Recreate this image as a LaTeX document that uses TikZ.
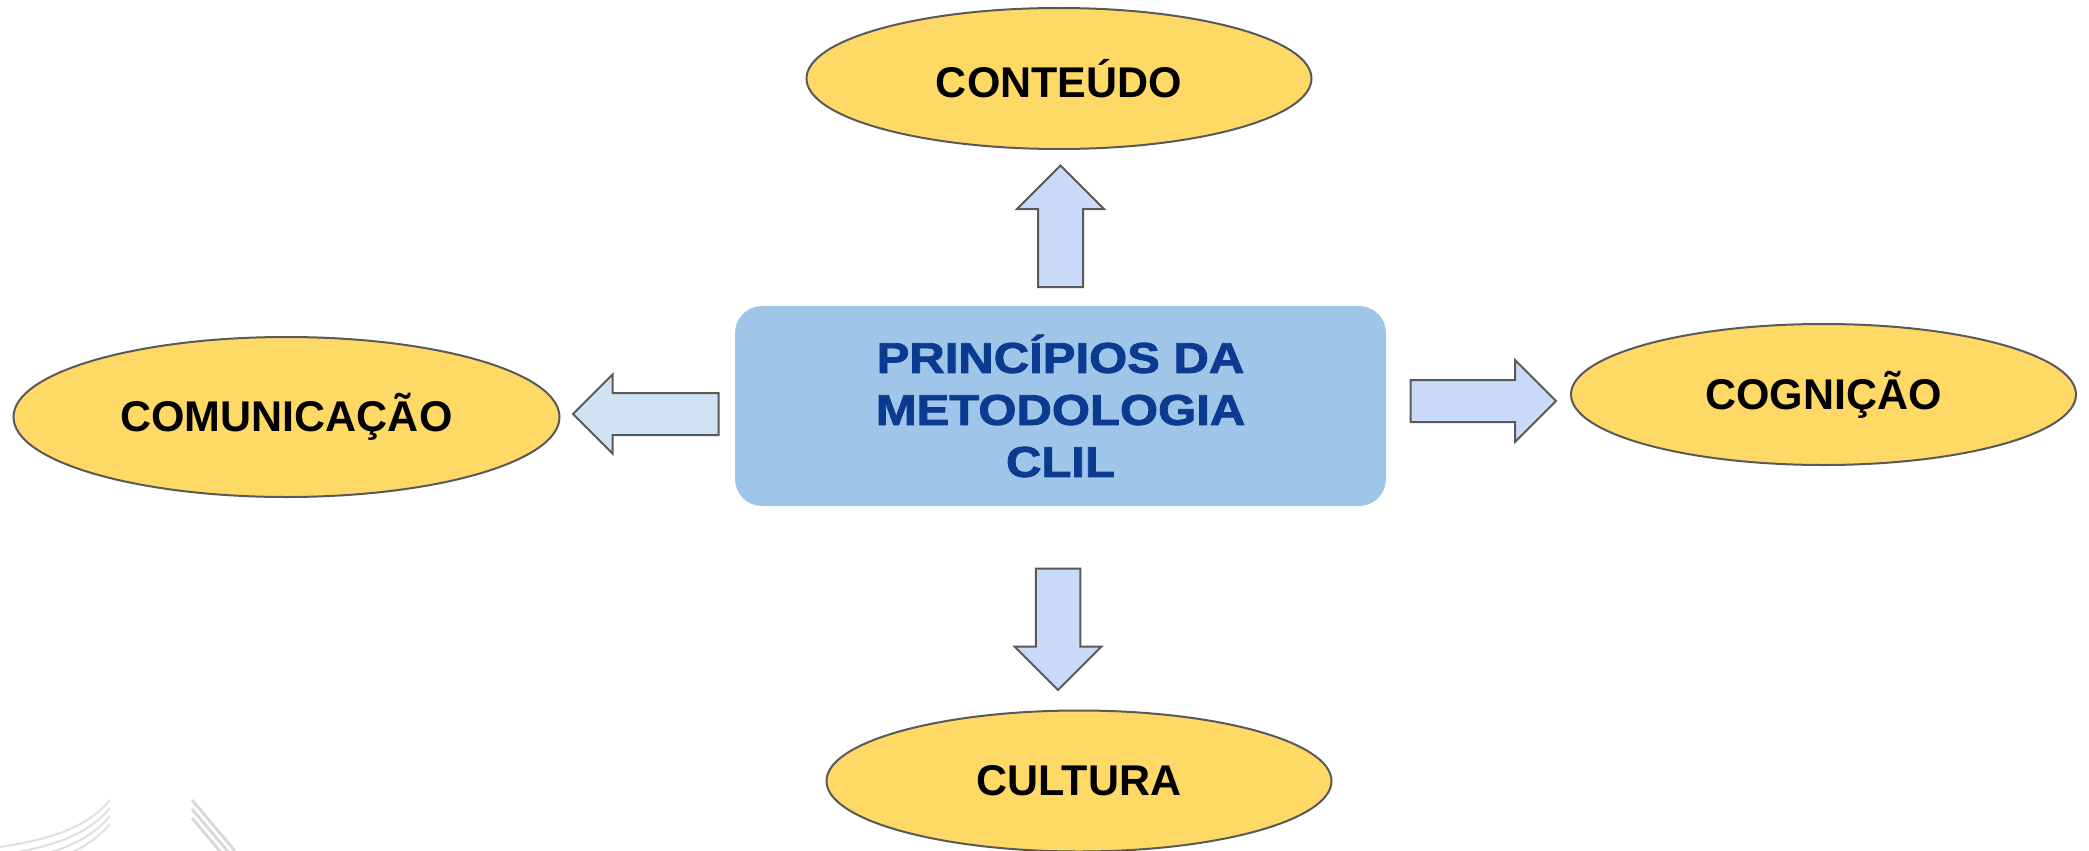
\documentclass[tikz,border=0pt]{standalone}
\usepackage{fontspec}
\setmainfont{Liberation Sans}
\newfontfamily\hubfont{Liberation Sans}[FakeStretch=1.14, FakeBold=2]
\usepackage{xcolor}
\usepackage{tikz}
\usetikzlibrary{positioning, shapes.geometric, shapes.arrows}
\definecolor{topicyellow}{HTML}{FFD966}
\definecolor{hubblue}{HTML}{9FC5E8}
\definecolor{arrowblue}{HTML}{C9DAF8}
\definecolor{arrowpale}{HTML}{CFE2F3}
\definecolor{edgegray}{HTML}{595959}
\definecolor{titleblue}{HTML}{0B3B91}
\tikzset{
  topic/.style={ellipse, draw=edgegray, line width=2pt, fill=topicyellow, inner sep=0pt,
    minimum width=505, minimum height=141, font=\fontsize{43}{50}\selectfont\bfseries},
  hub/.style={rectangle, rounded corners=27, fill=hubblue, minimum width=651, minimum height=200,
    align=center, text=titleblue, font=\hubfont\fontsize{43}{52}\selectfont\bfseries},
  blockarrow/.style={single arrow, draw=edgegray, line width=2pt, fill=arrowblue, inner xsep=0pt,
    inner ysep=21.5, single arrow tip angle=90, single arrow head extend=21, minimum width=85}
}

\begin{document}
\begin{tikzpicture}[x=1pt, y=-1pt]
    \useasboundingbox (0,0) rectangle (2089,851);
    % faint logo remains, bottom left
    \foreach \d in {0,8,16,24}
        \draw[gray!25, line width=2pt] (0,847+\d) .. controls (45,840+\d) and (85,830+\d) .. (110,800+\d);
    \foreach \d in {0,9,18}
        \draw[gray!30, line width=3pt] (192,800+\d) -- (235,851+\d);

    \node (hub) [hub] at (1060.5,406) {PRINCÍPIOS DA\\METODOLOGIA\\CLIL};
    \node (content) [topic] at (1059,78.5) {CONTEÚDO};
    \node (comm) [topic, minimum width=546, minimum height=160] at (286.5,417) {COMUNICAÇÃO};
    \node (cognition) [topic] at (1823.5,394.5) {COGNIÇÃO};
    \node (culture) [topic] at (1079,781) {CULTURA};

    \node (toContent) [blockarrow, rotate=90, minimum height=121.5, anchor=tail] at (1060.5,288) {};
    \node (toComm) [blockarrow, rotate=180, fill=arrowpale, minimum height=145.5, minimum width=77,
        inner ysep=20, single arrow head extend=18.5, anchor=tail] at (719.5,414) {};
    \node (toCognition) [blockarrow, minimum height=145.4, minimum width=80,
        inner ysep=20, single arrow head extend=20, anchor=tail] at (1409.6,401) {};
    \node (toCulture) [blockarrow, rotate=-90, minimum height=121.4, inner ysep=21.25,
        single arrow head extend=21.25, anchor=tail] at (1058,567.6) {};
\end{tikzpicture}
\end{document}
